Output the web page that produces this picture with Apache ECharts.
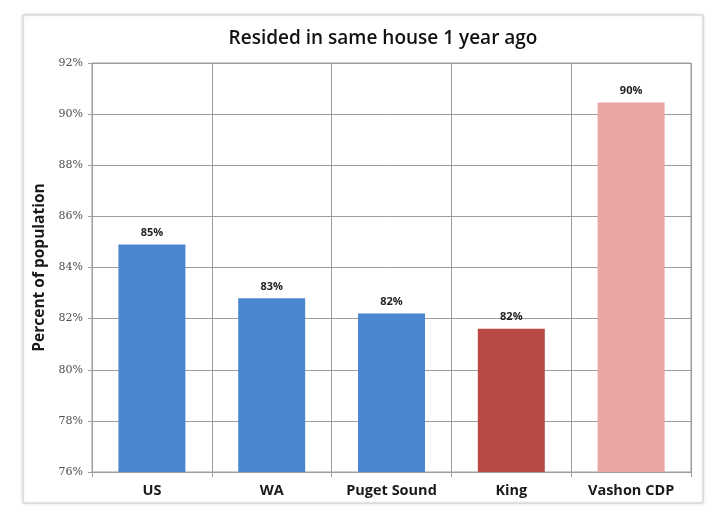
<!DOCTYPE html>
<html>
<head>
<meta charset="utf-8">
<script src="https://cdn.jsdelivr.net/npm/echarts@6/dist/echarts.min.js"></script>
<style>
  html, body { margin: 0; padding: 0; background: #ffffff; }
  #chart { width: 716px; height: 508px; }
</style>
</head>
<body>
<div id="chart"></div>
<script>
// Share of residents living in the same house as one year earlier
const categories = ['US', 'WA', 'Puget Sound', 'King', 'Vashon CDP'];
const residedSameHouse = [84.9, 82.8, 82.2, 81.6, 90.45];
const valueLabels = ['85%', '83%', '82%', '82%', '90%'];
const barColors = ['#4a87d0', '#4a87d0', '#4a87d0', '#b94943', '#e9a5a4'];
const yTicks = { min: 76, max: 92, step: 2 };

const chart = echarts.init(document.getElementById('chart'), null, { renderer: 'canvas' });

const option = {
  backgroundColor: '#ffffff',
  animation: false,
  graphic: [{
    type: 'rect',
    shape: { x: 23, y: 15, width: 680, height: 488 },
    style: { fill: '#ffffff', stroke: '#c9c9c9', lineWidth: 1,
             shadowBlur: 4, shadowColor: 'rgba(0,0,0,0.12)' },
    z: -10
  }],
  title: {
    text: 'Resided in same house 1 year ago',
    left: 378, top: 24, textAlign: 'center',
    textStyle: { fontFamily: 'Open Sans', fontSize: 19, fontWeight: 600, color: '#111111' }
  },
  grid: { left: 92, right: 25, top: 63, bottom: 36, show: true, borderColor: '#9d9d9d', borderWidth: 1 },
  xAxis: {
    type: 'category',
    data: categories,
    axisLine: { show: true, lineStyle: { color: '#9d9d9d' } },
    axisTick: { show: true, length: 5, lineStyle: { color: '#9d9d9d' } },
    splitLine: { show: true, interval: 0, lineStyle: { color: '#9d9d9d', width: 1 } },
    axisLabel: { interval: 0, margin: 11, fontFamily: 'Open Sans', fontSize: 14.5, fontWeight: 'bold', color: '#1a1a1a' }
  },
  yAxis: {
    type: 'value',
    min: yTicks.min, max: yTicks.max, interval: yTicks.step,
    name: 'Percent of population',
    nameLocation: 'middle', nameGap: 40, nameRotate: 90,
    nameTextStyle: { fontFamily: 'Open Sans', fontSize: 15.5, fontWeight: 'bold', color: '#1a1a1a' },
    axisLine: { show: true, lineStyle: { color: '#9d9d9d' } },
    axisTick: { show: true, length: 4, lineStyle: { color: '#9d9d9d' } },
    splitLine: { show: true, lineStyle: { color: '#9d9d9d', width: 1 } },
    axisLabel: { margin: 9, fontFamily: 'DejaVu Serif', fontSize: 11, color: '#4d4d4d',
                 formatter: v => v + '%' }
  },
  series: [{
    type: 'bar',
    barWidth: 67,
    data: residedSameHouse.map((v, i) => ({
      value: v,
      itemStyle: { color: barColors[i] },
      label: { formatter: valueLabels[i] }
    })),
    label: {
      show: true, position: 'top', distance: 6,
      fontFamily: 'Open Sans', fontSize: 11, fontWeight: 'bold', color: '#222222'
    }
  }]
};

chart.setOption(option);
</script>
</body>
</html>
